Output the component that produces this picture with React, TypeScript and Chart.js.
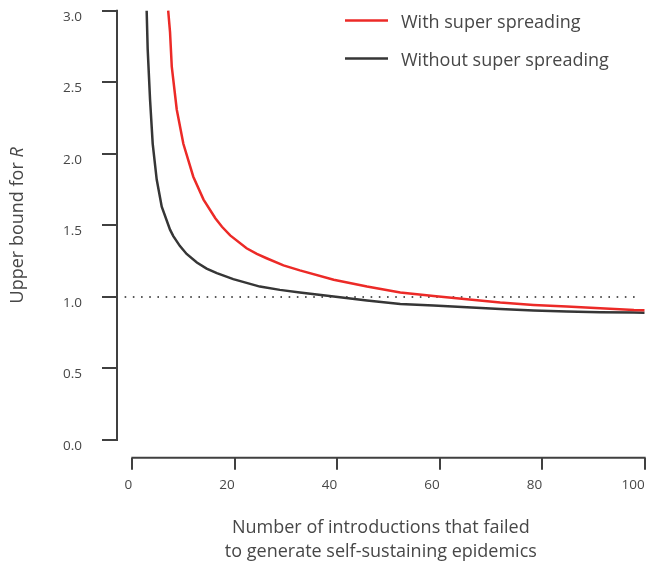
import { useEffect, useRef } from "react";
import { Chart, registerables } from "chart.js";

Chart.register(...registerables);

// Number of failed introductions (x) and upper bound for R (y)
const nWithout = [2.8, 3.0, 3.46, 3.98, 4.76, 5.74, 7.36, 8.0, 9.3, 10.6, 12.6, 14.5, 16.5, 19.7, 24.9, 28.8, 32.7, 39.3, 45.8, 52.3, 58.8, 65.3, 71.8, 78.3, 84.8, 91.3, 97.9, 100];
const rWithout = [3.0, 2.73, 2.38, 2.07, 1.82, 1.63, 1.47, 1.425, 1.355, 1.30, 1.24, 1.198, 1.166, 1.124, 1.072, 1.049, 1.03, 1.002, 0.974, 0.951, 0.94, 0.928, 0.916, 0.904, 0.897, 0.893, 0.89, 0.889];

const nWith = [7.0, 7.36, 7.7, 8.67, 9.96, 11.9, 13.9, 16.2, 17.5, 19.1, 22.3, 24.3, 26.2, 29.5, 32.7, 39.3, 45.8, 52.3, 58.8, 65.3, 71.8, 78.3, 84.8, 91.3, 97.9, 100];
const rWith = [3.0, 2.85, 2.61, 2.31, 2.07, 1.84, 1.68, 1.55, 1.49, 1.43, 1.34, 1.30, 1.27, 1.22, 1.185, 1.12, 1.072, 1.03, 1.007, 0.984, 0.96, 0.944, 0.932, 0.921, 0.909, 0.907];

const refX = [-1.5, 99];
const refY = [1, 1];

const xTicks = [0, 20, 40, 60, 80, 100];
const yTicks = [0, 0.5, 1.0, 1.5, 2.0, 2.5, 3.0];

const seriesLabels = ["With super spreading", "Without super spreading"];
const xTitle = ["Number of introductions that failed", "to generate self-sustaining epidemics"];
const yTitleMain = "Upper bound for ";
const yTitleItalic = "R";

const RED = "#ec2a27";
const DARK = "#363636";
const AXIS = "#404040";
const TEXT = "#474747";
const FONT = "'Open Sans', sans-serif";

const toPts = (xs: number[], ys: number[]) => xs.map((x, i) => ({ x, y: ys[i] }));

const zeroPad = (s: any) => {
  s.paddingTop = 0;
  s.paddingBottom = 0;
  s.paddingLeft = 0;
  s.paddingRight = 0;
};

const decorPlugin = {
  id: "decor",
  afterDraw(chart: any) {
    const { ctx, scales } = chart;
    const x = scales.x;
    const y = scales.y;
    ctx.save();
    // R-style axis lines spanning tick range
    ctx.strokeStyle = AXIS;
    ctx.lineWidth = 2;
    ctx.beginPath();
    const yx = y.right;
    ctx.moveTo(yx, y.getPixelForValue(yTicks[0]) + 1);
    ctx.lineTo(yx, y.getPixelForValue(yTicks[yTicks.length - 1]) - 1);
    const xy = x.top;
    ctx.moveTo(x.getPixelForValue(xTicks[0]) - 1, xy);
    ctx.lineTo(x.getPixelForValue(xTicks[xTicks.length - 1]) + 1, xy);
    ctx.stroke();

    // y axis title with italic R
    ctx.fillStyle = TEXT;
    ctx.textBaseline = "middle";
    const cy = (y.getPixelForValue(yTicks[0]) + y.getPixelForValue(yTicks[yTicks.length - 1])) / 2;
    ctx.translate(18, cy);
    ctx.rotate(-Math.PI / 2);
    ctx.font = `18px ${FONT}`;
    const w1 = ctx.measureText(yTitleMain).width;
    ctx.font = `italic 18px ${FONT}`;
    const w2 = ctx.measureText(yTitleItalic).width;
    const start = -(w1 + w2) / 2;
    ctx.font = `18px ${FONT}`;
    ctx.textAlign = "left";
    ctx.fillText(yTitleMain, start, 0);
    ctx.font = `italic 18px ${FONT}`;
    ctx.fillText(yTitleItalic, start + w1, 0);
    ctx.restore();

    // legend
    ctx.save();
    const colors = [RED, DARK];
    const rows = [20.5, 58.5];
    ctx.font = `18px ${FONT}`;
    ctx.textBaseline = "middle";
    ctx.textAlign = "left";
    seriesLabels.forEach((lab, i) => {
      ctx.strokeStyle = colors[i];
      ctx.lineWidth = 2.5;
      ctx.beginPath();
      ctx.moveTo(345, rows[i]);
      ctx.lineTo(388, rows[i]);
      ctx.stroke();
      ctx.fillStyle = TEXT;
      ctx.fillText(lab, 401, rows[i] + 2);
    });
    ctx.restore();
  },
};

export default function App() {
  const ref = useRef<HTMLCanvasElement | null>(null);
  useEffect(() => {
    if (!ref.current) return;
    const chart = new Chart(ref.current, {
      type: "line",
      data: {
        datasets: [
          {
            label: seriesLabels[0],
            data: toPts(nWith, rWith),
            borderColor: RED,
            borderWidth: 2.5,
            pointRadius: 0,
            tension: 0,
          },
          {
            label: seriesLabels[1],
            data: toPts(nWithout, rWithout),
            borderColor: DARK,
            borderWidth: 2.5,
            pointRadius: 0,
            tension: 0,
          },
          {
            label: "R = 1",
            data: toPts(refX, refY),
            borderColor: "#222",
            borderWidth: 1.5,
            borderDash: [1.6, 6.6],
            pointRadius: 0,
          },
        ],
      },
      options: {
        animation: false,
        responsive: false,
        layout: { padding: { left: 0, right: 1.3, top: 0, bottom: 0 } },
        plugins: { legend: { display: false }, tooltip: { enabled: false } },
        scales: {
          x: {
            type: "linear",
            min: -2.99,
            max: 100,
            afterBuildTicks: (s: any) => {
              s.ticks = xTicks.map((v) => ({ value: v }));
            },
            afterFit: (s: any) => {
              s.height = 567 - 457.7;
              zeroPad(s);
            },
            grid: { drawOnChartArea: false, drawTicks: true, tickLength: 12, color: AXIS, lineWidth: 2 },
            border: { display: false },
            ticks: {
              align: "end",
              padding: 7,
              color: TEXT,
              font: { family: FONT, size: 13.5 },
              callback: (v: any) => String(v),
            },
            title: {
              display: true,
              text: xTitle,
              color: TEXT,
              font: { family: FONT, size: 18, lineHeight: 1.35 },
              padding: { top: 0, bottom: 3 },
            },
          },
          y: {
            type: "linear",
            min: -0.124,
            max: 3.075,
            afterBuildTicks: (s: any) => {
              s.ticks = yTicks.map((v) => ({ value: v }));
            },
            afterFit: (s: any) => {
              s.width = 117;
              zeroPad(s);
            },
            grid: { drawOnChartArea: false, drawTicks: true, tickLength: 15, color: AXIS, lineWidth: 2 },
            border: { display: false },
            ticks: {
              padding: 20,
              labelOffset: 6,
              color: TEXT,
              font: { family: FONT, size: 13.5 },
              callback: (v: any) => Number(v).toFixed(1),
            },
          },
        },
      },
      plugins: [decorPlugin],
    });
    return () => chart.destroy();
  }, []);
  return (
    <div style={{ position: "fixed", left: 0, top: 0, width: 646, height: 567, background: "#fff" }}>
      <canvas ref={ref} width={646} height={567} style={{ width: 646, height: 567 }} />
    </div>
  );
}
